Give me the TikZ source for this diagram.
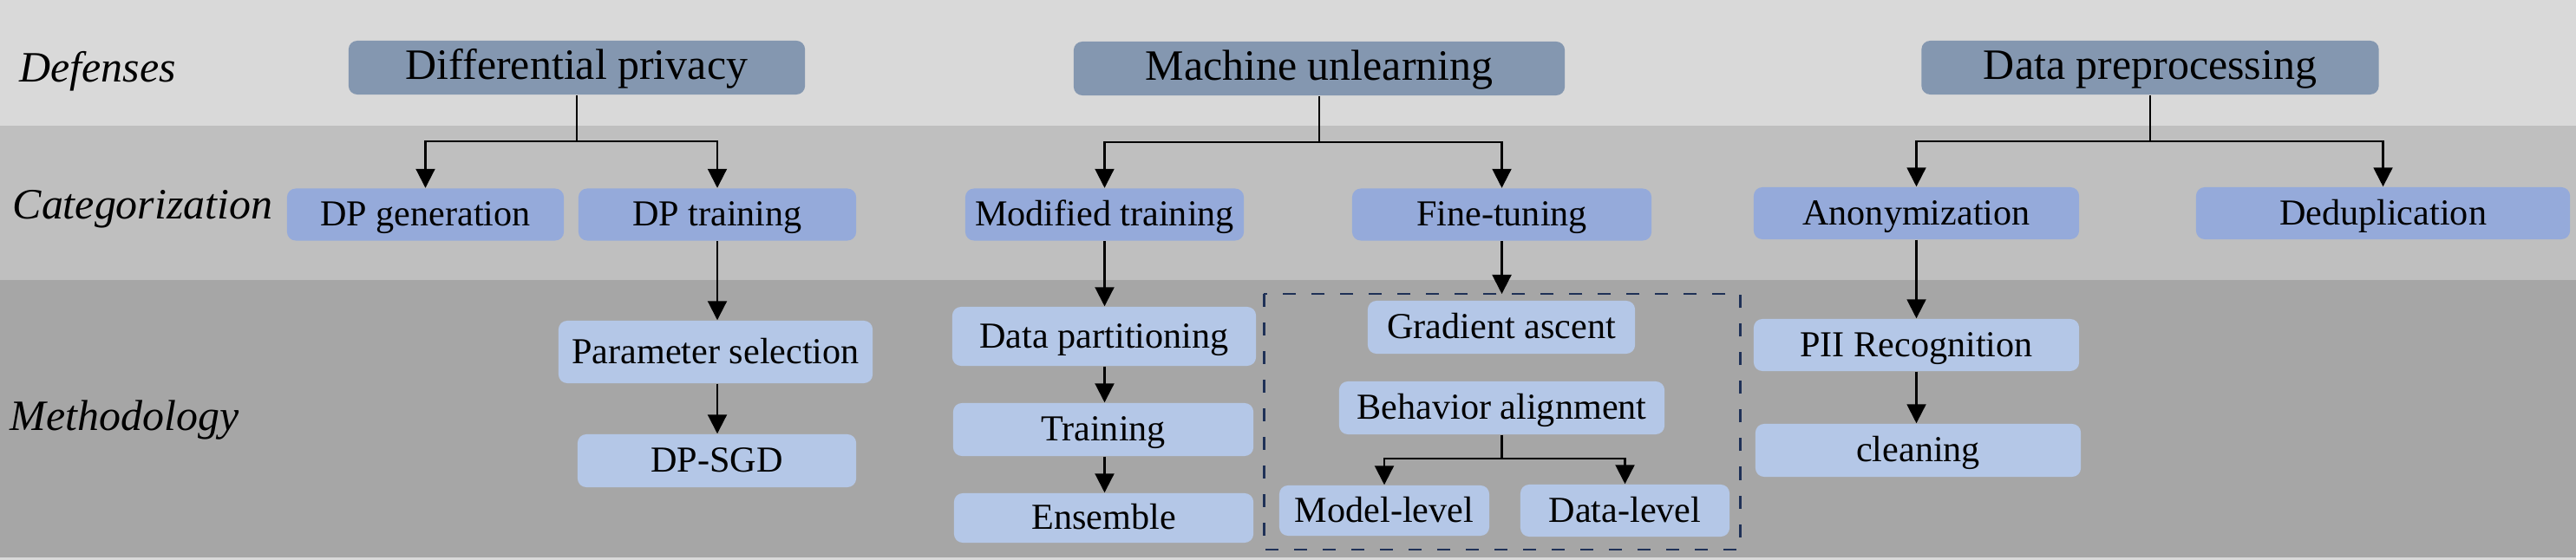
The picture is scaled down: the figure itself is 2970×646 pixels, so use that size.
\documentclass[tikz,border=0pt]{standalone}
\usepackage{fontspec}
\setmainfont{Liberation Serif}
\usetikzlibrary{arrows.meta}
\definecolor{bandA}{HTML}{D9D9D9}
\definecolor{bandB}{HTML}{BFBFBF}
\definecolor{bandC}{HTML}{A6A6A6}
\definecolor{topbox}{HTML}{8497B0}
\definecolor{catbox}{HTML}{95AADA}
\definecolor{metbox}{HTML}{B4C7E7}
\definecolor{dashc}{HTML}{1F3157}
\tikzset{
  box/.style={rectangle, rounded corners=0.1cm, inner sep=0pt, align=center, text depth=0.22em, text height=0.98em},
  topnode/.style={box, fill=topbox, font=\fontsize{14.2pt}{16pt}\selectfont, minimum height=0.62cm},
  catnode/.style={box, fill=catbox, font=\fontsize{12pt}{14pt}\selectfont, minimum height=0.6cm},
  metnode/.style={box, fill=metbox, font=\fontsize{12pt}{14pt}\selectfont, minimum height=0.61cm},
  rowlabel/.style={anchor=base west, inner sep=0pt, font=\fontsize{14.2pt}{16pt}\selectfont\itshape},
  conn/.style={line width=0.6pt, black},
  arr/.style={conn, -{Triangle[length=0.22cm, width=0.22cm]}},
  dashbox/.style={draw=dashc, line width=0.85pt, dash pattern=on 0.15cm off 0.18cm}
}
\begin{document}
\begin{tikzpicture}[x=0.01cm, y=-0.01cm]
\useasboundingbox (0,0) rectangle (2970,646);
% bands
\fill[bandA] (0,0) rectangle (2970,646);
\fill[bandA] (0,0) rectangle (2970,145);
\fill[bandB] (0,145) rectangle (2970,323);
\fill[bandC] (0,323) rectangle (2970,643);

% row labels
\node[rowlabel] (lDef) at (22,95) {Defenses};
\node[rowlabel] (lCat) at (14,253) {Categorization};
\node[rowlabel] (lMet) at (11,496) {Methodology};

% top level
\node[topnode, minimum width=5.26cm] (dp) at (665,78) {Differential privacy};
\node[topnode, minimum width=5.66cm] (mu) at (1521,79) {Machine unlearning};
\node[topnode, minimum width=5.27cm] (pre) at (2479,78) {Data preprocessing};

% categorization
\node[catnode, minimum width=3.19cm] (dpg) at (490.5,247.5) {DP generation};
\node[catnode, minimum width=3.20cm] (dpt) at (827,247.5) {DP training};
\node[catnode, minimum width=3.21cm] (mod) at (1273.5,247.5) {Modified training};
\node[catnode, minimum width=3.45cm] (ft) at (1731.5,247.5) {Fine-tuning};
\node[catnode, minimum width=3.75cm] (ano) at (2209.5,246) {Anonymization};
\node[catnode, minimum width=4.31cm] (ded) at (2747.5,246) {Deduplication};

% methodology
\node[metnode, minimum width=3.62cm, minimum height=0.72cm] (ps) at (825,406) {Parameter selection};
\node[metnode, minimum width=3.21cm] (sgd) at (826.5,531.5) {DP-SGD};
\node[metnode, minimum width=3.50cm, minimum height=0.68cm] (dpart) at (1273,388) {Data partitioning};
\node[metnode, minimum width=3.46cm] (train) at (1272,495.5) {Training};
\node[metnode, minimum width=3.45cm, minimum height=0.57cm] (ens) at (1272.5,597.5) {Ensemble};
\node[metnode, minimum width=3.08cm] (ga) at (1731,377.5) {Gradient ascent};
\node[metnode, minimum width=3.75cm] (ba) at (1731.5,470.5) {Behavior alignment};
\node[metnode, minimum width=2.42cm, minimum height=0.58cm] (ml) at (1596,589) {Model-level};
\node[metnode, minimum width=2.41cm, minimum height=0.60cm] (dl) at (1873.5,589) {Data-level};
\node[metnode, minimum width=3.75cm, minimum height=0.60cm] (pii) at (2209.5,398) {PII Recognition};
\node[metnode, minimum width=3.75cm] (cln) at (2211.5,519.5) {cleaning};

% dashed group
\coordinate (dbA) at (1457,339);
\coordinate (dbB) at (2006,634);
\draw[dashbox] (dbA) rectangle (dbB);

% connectors: differential privacy
\coordinate (j1) at (665,163);
\draw[conn] (dp.south) -- (j1);
\draw[arr] (j1) -| (dpg.north);
\draw[arr] (j1) -| (dpt.north);
\draw[arr] (dpt.south) -- (dpt.south |- ps.north);
\draw[arr] (dpt.south |- ps.south) -- (dpt.south |- sgd.north);

% machine unlearning
\coordinate (j2) at (1521,164);
\draw[conn] (mu.south) -- (j2);
\draw[arr] (j2) -| (mod.north);
\draw[arr] (j2) -| (ft.north);
\draw[arr] (mod.south) -- (mod.south |- dpart.north);
\draw[arr] (mod.south |- dpart.south) -- (mod.south |- train.north);
\draw[arr] (mod.south |- train.south) -- (mod.south |- ens.north);
\draw[arr] (ft.south) -- (ft.south |- dbA);
\coordinate (j3) at (1731.5,529);
\draw[conn] (ba.south) -- (j3);
\draw[arr] (j3) -| (ml.north);
\draw[arr] (j3) -| (dl.north);

% data preprocessing
\coordinate (j4) at (2479,163);
\draw[conn] (pre.south) -- (j4);
\draw[arr] (j4) -| (ano.north);
\draw[arr] (j4) -| (ded.north);
\draw[arr] (ano.south) -- (ano.south |- pii.north);
\draw[arr] (ano.south |- pii.south) -- (ano.south |- cln.north);
\end{tikzpicture}
\end{document}
